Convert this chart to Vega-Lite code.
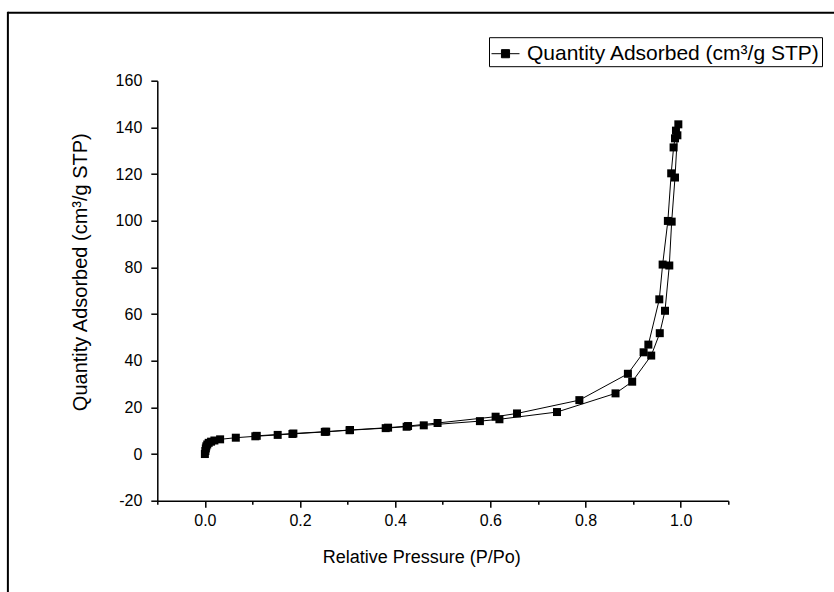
{
  "$schema": "https://vega.github.io/schema/vega-lite/v6.json",
  "width": 571,
  "height": 420,
  "autosize": {"type": "none"},
  "padding": {"left": 157.3, "top": 80.7, "right": 105.7, "bottom": 91.3},
  "background": "white",
  "config": {
    "view": {"stroke": null},
    "font": "Liberation Sans",
    "axis": {"domainColor": "black", "tickColor": "black", "labelColor": "black", "titleColor": "black", "domainWidth": 1.5, "tickWidth": 1.5, "labelFont": "Liberation Sans", "titleFont": "Liberation Sans", "titleFontWeight": "normal", "grid": false, "labelOverlap": false, "labelFlush": false, "labelBound": false}
  },
  "layer": [
    {
      "data": {"values": [{"k": 1}]},
      "mark": {"type": "rule", "color": "black", "strokeWidth": 2, "clip": false},
      "encoding": {
        "x": {"datum": -0.414, "type": "quantitative", "scale": {"domain": [-0.1, 1.1], "nice": false, "zero": false}},
        "x2": {"datum": 1.45},
        "y": {"datum": 189.1, "type": "quantitative", "scale": {"domain": [-20, 160], "nice": false, "zero": false}}
      }
    },
    {
      "data": {"values": [{"k": 1}]},
      "mark": {"type": "rule", "color": "black", "strokeWidth": 2, "clip": false},
      "encoding": {
        "x": {"datum": -0.414, "type": "quantitative", "scale": {"domain": [-0.1, 1.1], "nice": false, "zero": false}},
        "y": {"datum": 189.55, "type": "quantitative", "scale": {"domain": [-20, 160], "nice": false, "zero": false}},
        "y2": {"datum": -70}
      }
    },
    {
      "data": {"values": [
        {"i": 1, "P": 0.000, "Q": 0.0},
        {"i": 2, "P": 0.001, "Q": 1.3},
        {"i": 3, "P": 0.002, "Q": 2.4},
        {"i": 4, "P": 0.003, "Q": 3.3},
        {"i": 5, "P": 0.005, "Q": 4.1},
        {"i": 6, "P": 0.008, "Q": 4.8},
        {"i": 7, "P": 0.013, "Q": 5.3},
        {"i": 8, "P": 0.020, "Q": 5.8},
        {"i": 9, "P": 0.032, "Q": 6.3},
        {"i": 10, "P": 0.065, "Q": 7.0},
        {"i": 11, "P": 0.106, "Q": 7.6},
        {"i": 12, "P": 0.153, "Q": 8.2},
        {"i": 13, "P": 0.184, "Q": 8.6},
        {"i": 14, "P": 0.252, "Q": 9.5},
        {"i": 15, "P": 0.304, "Q": 10.2},
        {"i": 16, "P": 0.380, "Q": 11.1},
        {"i": 17, "P": 0.424, "Q": 11.7},
        {"i": 18, "P": 0.460, "Q": 12.3},
        {"i": 19, "P": 0.578, "Q": 14.1},
        {"i": 20, "P": 0.619, "Q": 14.9},
        {"i": 21, "P": 0.740, "Q": 18.0},
        {"i": 22, "P": 0.863, "Q": 26.0},
        {"i": 23, "P": 0.898, "Q": 31.0},
        {"i": 24, "P": 0.938, "Q": 42.2},
        {"i": 25, "P": 0.956, "Q": 51.8},
        {"i": 26, "P": 0.967, "Q": 61.4},
        {"i": 27, "P": 0.976, "Q": 80.8},
        {"i": 28, "P": 0.981, "Q": 99.6},
        {"i": 29, "P": 0.988, "Q": 118.5},
        {"i": 30, "P": 0.993, "Q": 136.6},
        {"i": 31, "P": 0.995, "Q": 141.3},
        {"i": 32, "P": 0.990, "Q": 138.6},
        {"i": 33, "P": 0.988, "Q": 135.3},
        {"i": 34, "P": 0.985, "Q": 131.4},
        {"i": 35, "P": 0.980, "Q": 120.3},
        {"i": 36, "P": 0.973, "Q": 99.9},
        {"i": 37, "P": 0.962, "Q": 81.2},
        {"i": 38, "P": 0.955, "Q": 66.3},
        {"i": 39, "P": 0.932, "Q": 46.9},
        {"i": 40, "P": 0.922, "Q": 43.6},
        {"i": 41, "P": 0.889, "Q": 34.4},
        {"i": 42, "P": 0.787, "Q": 23.1},
        {"i": 43, "P": 0.656, "Q": 17.4},
        {"i": 44, "P": 0.611, "Q": 16.0},
        {"i": 45, "P": 0.489, "Q": 13.3},
        {"i": 46, "P": 0.427, "Q": 12.0},
        {"i": 47, "P": 0.385, "Q": 11.3},
        {"i": 48, "P": 0.305, "Q": 10.3},
        {"i": 49, "P": 0.255, "Q": 9.6},
        {"i": 50, "P": 0.186, "Q": 8.8},
        {"i": 51, "P": 0.109, "Q": 7.8}
      ]},
      "mark": {"type": "line", "strokeWidth": 1, "point": {"shape": "square", "filled": true, "size": 64, "opacity": 1}},
      "encoding": {
        "x": {
          "field": "P", "type": "quantitative",
          "scale": {"domain": [-0.1, 1.1], "nice": false, "zero": false},
          "axis": {
            "title": "Relative Pressure (P/Po)",
            "values": [-0.1, 0, 0.1, 0.2, 0.3, 0.4, 0.5, 0.6, 0.7, 0.8, 0.9, 1.0, 1.1],
            "labelExpr": "indexof(['0.0','0.2','0.4','0.6','0.8','1.0'], format(datum.value,'.1f')) >= 0 ? format(datum.value,'.1f') : ''",
            "tickSize": {"condition": {"test": "indexof(['0.0','0.2','0.4','0.6','0.8','1.0'], format(datum.value,'.1f')) >= 0", "value": 6.5}, "value": 3.5},
            "labelFontSize": 16,
            "labelPadding": 5,
            "titleFontSize": 18,
            "titleBaseline": "middle",
            "titleAlign": "center",
            "titleX": 264,
            "titleY": 57
          }
        },
        "y": {
          "field": "Q", "type": "quantitative",
          "scale": {"domain": [-20, 160], "nice": false, "zero": false},
          "axis": {
            "title": "Quantity Adsorbed (cm³/g STP)",
            "values": [-20, -10, 0, 10, 20, 30, 40, 50, 60, 70, 80, 90, 100, 110, 120, 130, 140, 150, 160],
            "labelExpr": "datum.value % 20 === 0 ? ('' + datum.value) : ''",
            "tickSize": {"condition": {"test": "datum.value % 20 === 0", "value": 6.5}, "value": 3.5},
            "labelFontSize": 16,
            "labelPadding": 9,
            "titleFontSize": 20,
            "titleBaseline": "middle",
            "titleAlign": "center",
            "titleX": -77,
            "titleY": 191
          }
        },
        "order": {"field": "i", "type": "quantitative"},
        "color": {
          "datum": "Quantity Adsorbed (cm³/g STP)",
          "type": "nominal",
          "scale": {"range": ["black"]},
          "legend": {
            "title": null,
            "orient": "none",
            "legendX": 331.7,
            "legendY": -43.5,
            "strokeColor": "black",
            "fillColor": "white",
            "padding": 2,
            "cornerRadius": 0,
            "labelFont": "Liberation Sans",
            "labelFontSize": 21,
            "labelLimit": 0,
            "labelColor": "black",
            "labelOffset": 7,
            "symbolType": "M-1,0H-0.29M0.29,0H1M-0.29,-0.29H0.29V0.29H-0.29Z",
            "symbolSize": 784,
            "symbolStrokeWidth": 1,
            "encode": {"symbols": {"update": {"fill": {"value": "black"}, "stroke": {"value": "black"}, "strokeWidth": {"value": 1}, "opacity": {"value": 1}, "shape": {"value": "M-1,0H-0.29M0.29,0H1M-0.29,-0.29H0.29V0.29H-0.29Z"}, "size": {"value": 784}}}}
          }
        }
      }
    }
  ]
}
